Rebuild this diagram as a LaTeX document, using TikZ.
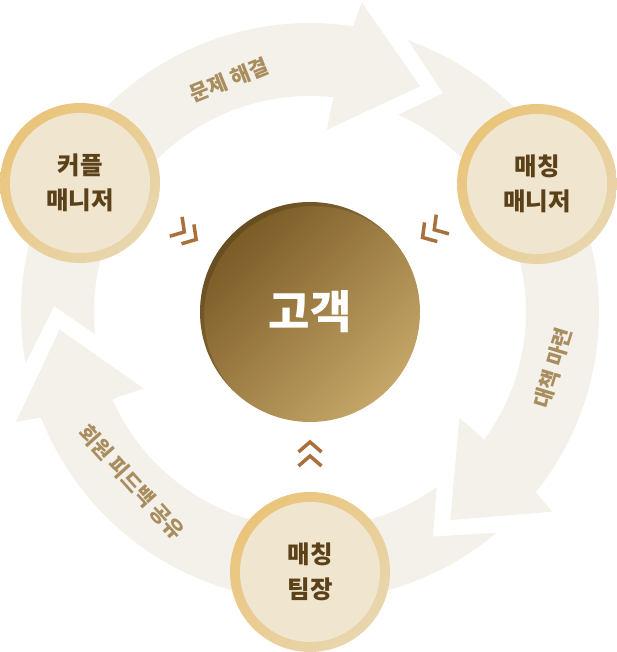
\documentclass[tikz,border=0pt]{standalone}
\usepackage{fontspec}
\setmainfont{Noto Sans CJK KR}
\usetikzlibrary{shapes,arrows,backgrounds}

\definecolor{bandgray}{HTML}{F3F1EA}
\definecolor{labelgold}{HTML}{A98D5E}
\definecolor{ringgold}{HTML}{EAC47A}
\definecolor{ringpale}{HTML}{E9D6AE}
\definecolor{innercream}{HTML}{F0E6CF}
\definecolor{darktext}{HTML}{5A4119}
\definecolor{chevbrown}{HTML}{A8703A}
\definecolor{coredark}{HTML}{7A5A25}
\definecolor{corelight}{HTML}{C5A668}

\begin{document}
\begin{tikzpicture}[x=1pt,y=1pt,
  band/.style={fill=bandgray},
  roleball/.style={circle, minimum size=160pt, inner sep=0pt, top color=ringgold, bottom color=ringpale, shading angle=45,
    text=darktext, align=center, font=\fontsize{24.5}{35}\selectfont\bfseries,
    path picture={\fill[innercream] (path picture bounding box.center) circle[radius=70pt];}},
  corecircle/.style={circle, minimum size=220pt, inner sep=0pt, top color=coredark, bottom color=corelight, shading angle=45,
    text=white, font=\fontsize{45}{45}\selectfont\bfseries,
    path picture={\fill[black, opacity=.15, even odd rule] (path picture bounding box.south west) rectangle (path picture bounding box.north east)
      ([shift={(4,-4)}]path picture bounding box.center) circle[radius=110pt];}},
  steplabel/.style={text=labelgold, font=\fontsize{21}{21}\selectfont\bfseries},
  chev/.style={draw=chevbrown, line width=3.5pt},
  twochev/.pic={\draw[chev] (-10,11.5) -- (0,0) -- (-10,-11.5);
                \draw[chev] (-24,11.5) -- (-14,0) -- (-24,-11.5);}]
\useasboundingbox (0,0) rectangle (617,652);

% the three curved arrows
\begin{scope}[shift={(310,340)}]
\foreach \k in {0,1,2}
  \fill[band, rotate=-120*\k] (190.2:289pt) arc[start angle=190.2, end angle=81.4, radius=289pt]
    -- (80.5:314pt) -- (64:251pt) -- (84.7:183pt) -- (83.8:216pt)
    arc[start angle=83.8, end angle=185.9, radius=216pt] -- (178.7:256pt) -- cycle;
\pic[rotate=-32.5] at (147.5:135pt) {twochev};
\pic[rotate=213.5] at (33.5:135pt) {twochev};
\pic[rotate=90] at (270:130pt) {twochev};
\end{scope}

\node[steplabel, rotate=22] (lblsolve) at (229,572) {문제 해결};
\node[steplabel, rotate=73] (lblplan) at (553,284) {대책 마련};
\node[steplabel, rotate=-48] (lblshare) at (132,170) {회원 피드백 공유};

\node[corecircle] (client) at (310,340) {고객};
\node[roleball] (couple) at (80,469) {커플\\매니저};
\node[roleball] (matchmgr) at (537,468) {매칭\\매니저};
\node[roleball] (teamlead) at (310,80) {매칭\\팀장};
\end{tikzpicture}
\end{document}
